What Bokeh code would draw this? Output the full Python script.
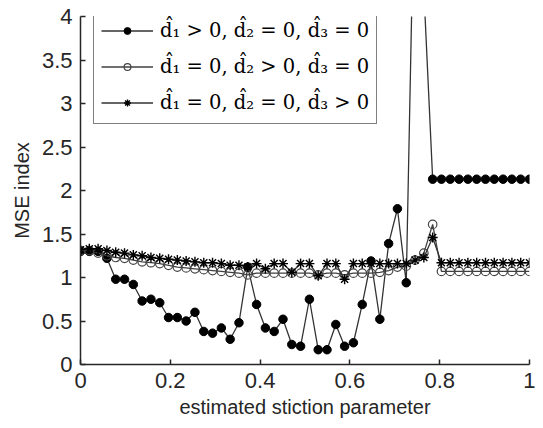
import numpy as np
from bokeh.plotting import figure
from bokeh.models import Range1d, FixedTicker, CustomJSTickFormatter, Legend
from bokeh.embed import file_html
from bokeh.resources import INLINE

# 52 sample points of the estimated stiction parameter (0 .. 1)
n_points = 52
x_vals = [i / (n_points - 1) for i in range(n_points)]

d1_only = [1.30, 1.30, 1.30, 1.22, 0.98, 0.98, 0.92, 0.73, 0.75, 0.71,
           0.54, 0.54, 0.50, 0.60, 0.38, 0.36, 0.42, 0.29, 0.48, 1.12,
           0.69, 0.42, 0.38, 0.52, 0.23, 0.21, 0.75, 0.17, 0.17, 0.46,
           0.21, 0.25, 0.69, 1.19, 0.52, 1.39, 1.79, 0.94, 6.00, 4.30,
           2.13, 2.13, 2.13, 2.13, 2.13, 2.13, 2.13, 2.13, 2.13, 2.13,
           2.13, 2.13]

d2_only = [1.31, 1.31, 1.28, 1.25, 1.23, 1.22, 1.20, 1.18, 1.17, 1.16,
           1.14, 1.12, 1.11, 1.10, 1.09, 1.08, 1.07, 1.06, 1.05, 1.03,
           1.05, 1.05, 1.05, 1.05, 1.05, 1.05, 1.05, 1.03, 1.05, 1.05,
           1.03, 1.05, 1.05, 1.05, 1.06, 1.08, 1.12, 1.13, 1.20, 1.28,
           1.61, 1.07, 1.07, 1.07, 1.07, 1.07, 1.07, 1.07, 1.07, 1.07,
           1.07, 1.07]

d3_only = [1.32, 1.33, 1.33, 1.31, 1.29, 1.28, 1.26, 1.25, 1.23, 1.22,
           1.21, 1.20, 1.19, 1.18, 1.17, 1.17, 1.16, 1.14, 1.14, 1.12,
           1.16, 1.10, 1.16, 1.16, 1.06, 1.16, 1.16, 1.02, 1.16, 1.16,
           0.98, 1.16, 1.16, 1.16, 1.16, 1.16, 1.16, 1.16, 1.20, 1.23,
           1.46, 1.17, 1.17, 1.17, 1.17, 1.17, 1.17, 1.17, 1.17, 1.17,
           1.17, 1.17]

labels = ["d\u0302\u2081 > 0, d\u0302\u2082 = 0, d\u0302\u2083 = 0",
          "d\u0302\u2081 = 0, d\u0302\u2082 > 0, d\u0302\u2083 = 0",
          "d\u0302\u2081 = 0, d\u0302\u2082 = 0, d\u0302\u2083 > 0"]

x_ticks = [0, 0.2, 0.4, 0.6, 0.8, 1]
y_ticks = [0, 0.5, 1, 1.5, 2, 2.5, 3, 3.5, 4]

p = figure(width=535, height=420, output_backend="svg", toolbar_location=None,
           x_range=Range1d(0, 1), y_range=Range1d(0, 4),
           min_border_left=80, min_border_right=6, min_border_top=16,
           min_border_bottom=54)
p.outline_line_color = None
p.grid.visible = False
p.background_fill_color = "white"

line_col = "#333333"
r1l = p.line(x_vals, d1_only, line_color=line_col, line_width=1.3)
r1m = p.scatter(x_vals, d1_only, marker="circle", size=8.5, fill_color="black",
                line_color="black")
r2l = p.line(x_vals, d2_only, line_color="#404040", line_width=1.3)
r2m = p.scatter(x_vals, d2_only, marker="circle", size=8.5, fill_color="white",
                fill_alpha=0.0, line_color="#444444", line_width=1.2)
r3l = p.line(x_vals, d3_only, line_color=line_col, line_width=1.3)
r3m = p.scatter(x_vals, d3_only, marker="asterisk", size=10,
                line_color="black", line_width=1.4)

legend = Legend(items=[(labels[0], [r1l, r1m]), (labels[1], [r2l, r2m]),
                       (labels[2], [r3l, r3m])],
                location=(13, 240))
legend.border_line_color = "black"
legend.border_line_width = 1.5
legend.background_fill_color = "white"
legend.background_fill_alpha = 1.0
legend.label_text_font = "DejaVu Serif"
legend.label_text_font_size = "19.5px"
legend.label_text_color = "black"
legend.glyph_width = 52
legend.glyph_height = 17
legend.label_height = 27
legend.label_standoff = 7
legend.spacing = 9
legend.padding = 7
legend.margin = 0
p.add_layout(legend, "center")

p.xaxis.ticker = FixedTicker(ticks=x_ticks)
p.yaxis.ticker = FixedTicker(ticks=y_ticks)
fmt = "return String(Math.round(tick*10)/10);"
p.xaxis.formatter = CustomJSTickFormatter(code=fmt)
p.yaxis.formatter = CustomJSTickFormatter(code=fmt)
p.xaxis.axis_label = "estimated stiction parameter"
p.yaxis.axis_label = "MSE index"

for ax in (p.xaxis[0], p.yaxis[0]):
    ax.axis_line_color = "#262626"
    ax.axis_line_width = 1.5
    ax.major_tick_line_color = "#262626"
    ax.major_tick_line_width = 1.5
    ax.major_tick_in = 5
    ax.major_tick_out = 0
    ax.minor_tick_line_color = None
    ax.major_label_text_font = "Liberation Sans"
    ax.major_label_text_font_size = "22px"
    ax.major_label_text_color = "#262626"
    ax.axis_label_text_font = "Liberation Sans"
    ax.axis_label_text_font_size = "20px"
    ax.axis_label_text_font_style = "normal"
    ax.axis_label_text_color = "#262626"
p.xaxis.major_label_standoff = 8
p.yaxis.major_label_standoff = 8
p.xaxis.axis_label_standoff = 5
p.yaxis.axis_label_standoff = 6

open("out.html", "w").write(file_html(p, INLINE))
